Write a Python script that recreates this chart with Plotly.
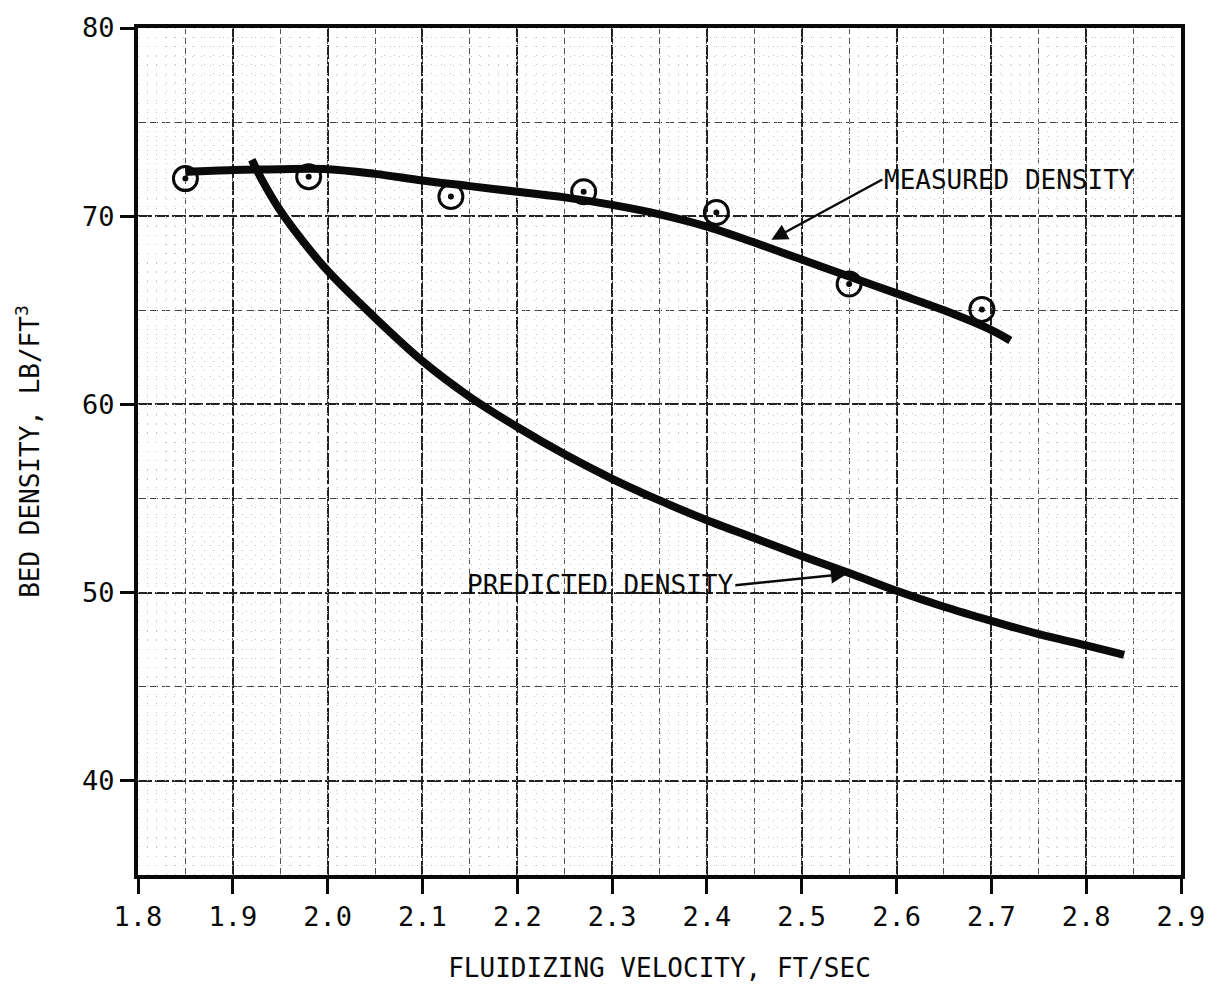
import plotly.graph_objects as go

# Measured data points
meas_x = [1.85, 1.98, 2.13, 2.27, 2.41, 2.55, 2.69]
meas_y = [72.0, 72.1, 71.05, 71.3, 70.2, 66.4, 65.05]

# Measured density curve (fitted line as drawn)
mcurve_x = [1.85, 1.9, 1.95, 2.0, 2.05, 2.1, 2.15, 2.2, 2.25, 2.3, 2.35, 2.4,
            2.45, 2.5, 2.55, 2.6, 2.65, 2.7, 2.72]
mcurve_y = [72.35, 72.45, 72.5, 72.5, 72.25, 71.9, 71.6, 71.3, 71.0, 70.6, 70.1,
            69.45, 68.6, 67.7, 66.8, 65.9, 65.0, 63.95, 63.4]

# Predicted density curve
pcurve_x = [1.92, 1.93, 1.95, 1.975, 2.0, 2.05, 2.1, 2.15, 2.2, 2.25, 2.3, 2.35,
            2.4, 2.45, 2.5, 2.55, 2.6, 2.65, 2.7, 2.75, 2.8, 2.84]
pcurve_y = [73.0, 72.0, 70.3, 68.6, 67.1, 64.6, 62.3, 60.4, 58.8, 57.35, 56.05,
            54.9, 53.85, 52.9, 51.95, 51.05, 50.1, 49.25, 48.5, 47.8, 47.2, 46.7]

x_ticks = [1.8, 1.9, 2.0, 2.1, 2.2, 2.3, 2.4, 2.5, 2.6, 2.7, 2.8, 2.9]
x_ticktext = ["1.8", "1.9", "2.0", "2.1", "2.2", "2.3", "2.4", "2.5", "2.6", "2.7", "2.8", "2.9"]
y_ticks = [40, 50, 60, 70, 80]
y_minor = [35, 45, 55, 65, 75]

FONT = "DejaVu Sans Mono"
X_RANGE = [1.8, 2.9]
Y_RANGE = [35, 80]
INK = "#0a0a0a"

fig = go.Figure()

# dummy trace to activate the fine graph-paper axes
fig.add_trace(go.Scatter(x=[None], y=[None], xaxis="x2", yaxis="y2",
                         showlegend=False, hoverinfo="skip"))

fig.add_trace(go.Scatter(x=pcurve_x, y=pcurve_y, mode="lines",
                         line=dict(color=INK, width=8, shape="spline", smoothing=0.8),
                         showlegend=False))
fig.add_trace(go.Scatter(x=mcurve_x, y=mcurve_y, mode="lines",
                         line=dict(color=INK, width=8, shape="spline"),
                         showlegend=False))
fig.add_trace(go.Scatter(x=meas_x, y=meas_y, mode="markers",
                         marker=dict(symbol="circle-open", size=24, color=INK,
                                     line=dict(width=3, color=INK)),
                         showlegend=False))
fig.add_trace(go.Scatter(x=meas_x, y=meas_y, mode="markers",
                         marker=dict(symbol="circle", size=6, color=INK),
                         showlegend=False))

fig.update_layout(
    width=1217, height=991,
    margin=dict(l=138, r=29, t=24, b=108),
    paper_bgcolor="white", plot_bgcolor="white",
    font=dict(family=FONT, size=26, color=INK),
    xaxis=dict(
        range=X_RANGE, tickmode="array", tickvals=x_ticks, ticktext=x_ticktext,
        ticks="outside", ticklen=15, tickwidth=3, tickcolor=INK,
        tickfont=dict(family=FONT, size=27, color=INK),
        showline=True, linewidth=4, linecolor=INK, mirror=True,
        showgrid=True, gridcolor="#222", gridwidth=1.5, griddash="14px,3px",
        minor=dict(dtick=0.05, tick0=1.8, showgrid=True, gridcolor="#555",
                   gridwidth=1, griddash="6px,4px"),
        title=dict(text="FLUIDIZING VELOCITY, FT/SEC", standoff=28,
                   font=dict(family=FONT, size=26, color=INK)),
        zeroline=False,
    ),
    yaxis=dict(
        range=Y_RANGE, tickmode="array", tickvals=y_ticks,
        ticks="outside", ticklen=14, tickwidth=3, tickcolor=INK,
        tickfont=dict(family=FONT, size=27, color=INK),
        showline=True, linewidth=4, linecolor=INK, mirror=True,
        showgrid=True, gridcolor="#222", gridwidth=1.5, griddash="14px,3px",
        minor=dict(tickvals=y_minor, showgrid=True, gridcolor="#444",
                   gridwidth=1.2, griddash="8px,4px"),
        title=dict(text="BED DENSITY, LB/FT<sup>3</sup>", standoff=36,
                   font=dict(family=FONT, size=26, color=INK)),
        zeroline=False,
    ),
    xaxis2=dict(
        range=X_RANGE, overlaying="x", anchor="y2", showticklabels=False,
        ticks="", showline=False, zeroline=False,
        showgrid=True, dtick=0.01, tick0=1.8, gridcolor="#c4c4c4",
        gridwidth=1, griddash="1px,8px",
    ),
    yaxis2=dict(
        range=Y_RANGE, overlaying="y", anchor="x2", showticklabels=False,
        ticks="", showline=False, zeroline=False,
        showgrid=True, dtick=0.5, tick0=35, gridcolor="#c4c4c4",
        gridwidth=1, griddash="1px,8px",
        minor=dict(dtick=2.5, tick0=35, showgrid=True, gridcolor="#888",
                   gridwidth=1, griddash="2px,6px"),
    ),
)

# Annotations: labels with arrows pointing at the curves
fig.add_annotation(x=2.468, y=68.75, xref="x", yref="y", ax=2.585, ay=71.95,
                   axref="x", ayref="y", text="MEASURED DENSITY",
                   showarrow=True, xanchor="left", yanchor="middle",
                   arrowhead=2, arrowsize=1.3, arrowwidth=2.5, arrowcolor=INK,
                   font=dict(family=FONT, size=26, color=INK))

fig.add_annotation(x=2.548, y=51.0, xref="x", yref="y", ax=2.43, ay=50.4,
                   axref="x", ayref="y", text="PREDICTED DENSITY",
                   showarrow=True, xanchor="right", yanchor="middle",
                   arrowhead=2, arrowsize=1.3, arrowwidth=2.5, arrowcolor=INK,
                   font=dict(family=FONT, size=26, color=INK))

fig.write_html("out.html")
